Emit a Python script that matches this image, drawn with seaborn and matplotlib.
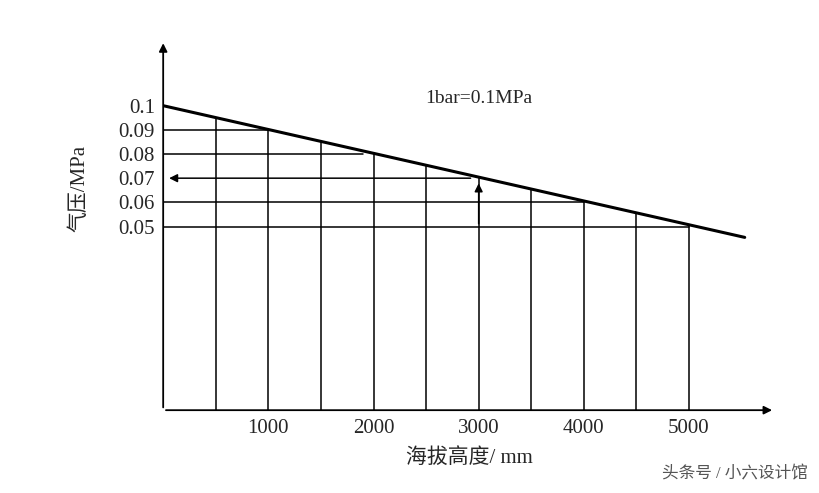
import matplotlib
matplotlib.use("Agg")
import matplotlib.pyplot as plt
import seaborn as sns
import numpy as np

heights = [500, 1000, 1500, 2000, 2500, 3000, 3500, 4000, 4500, 5000]
p_levels = [0.09, 0.08, 0.07, 0.06, 0.05]
level_h = [1000, 1900, 2950, 4000, 5000]
xticks = [1000, 2000, 3000, 4000, 5000]
yticks = [0.1, 0.09, 0.08, 0.07, 0.06, 0.05]
line_h = [0, 5530]
line_p = [0.1, 0.0455]

sns.set_style("white")
plt.rcParams['font.family'] = ['Liberation Serif', 'Noto Sans CJK SC', 'DejaVu Sans']

def p_of(h):
    return np.interp(h, line_h, line_p)

fig = plt.figure(figsize=(8.2, 4.93), dpi=100)
ax = fig.add_axes([0.199, 0.168, 0.746, 0.75])
ymin, ymax = -0.026, 0.127
xmax = 5817
ax.set_xlim(0, xmax)
ax.set_ylim(ymin, ymax)
for s in ax.spines.values():
    s.set_visible(False)

sns.lineplot(x=line_h, y=line_p, ax=ax, color='black', lw=2.2)
for h in heights:
    ax.plot([h, h], [ymin, p_of(h)], color='black', lw=1.1)
for p, h in zip(p_levels, level_h):
    if p == 0.07:
        ax.annotate('', xy=(30, p), xytext=(h, p),
                    arrowprops=dict(arrowstyle='-|>', color='black', lw=1.1, mutation_scale=12))
    else:
        ax.plot([0, h], [p, p], color='black', lw=1.1)
ax.annotate('', xy=(3000, 0.069), xytext=(3000, 0.05),
            arrowprops=dict(arrowstyle='-|>', color='black', lw=1.1, mutation_scale=12))
ax.annotate('', xy=(xmax, ymin), xytext=(0, ymin), annotation_clip=False,
            arrowprops=dict(arrowstyle='-|>', color='black', lw=1.3, mutation_scale=12))
ax.annotate('', xy=(0, ymax), xytext=(0, ymin), annotation_clip=False,
            arrowprops=dict(arrowstyle='-|>', color='black', lw=1.3, mutation_scale=12))

ax.set_xticks(xticks)
ax.set_xticklabels([str(v) for v in xticks], fontsize=15)
ax.set_yticks(yticks)
ax.set_yticklabels([f"{v:g}" for v in yticks], fontsize=15)
ax.tick_params(length=0, pad=6)
ax.text(3000, 0.103, "1bar=0.1MPa", fontsize=14, ha='center', va='center')
ax.set_xlabel("海拔高度/ mm", fontsize=15, labelpad=8)
ax.set_ylabel("气压/MPa", fontsize=15, labelpad=8)
ax.yaxis.set_label_coords(-0.12, 0.6)
fig.text(0.985, 0.03, "头条号 / 小六设计馆", ha='right', fontsize=12, color='#555555')
fig.savefig("out.png", dpi=100)
